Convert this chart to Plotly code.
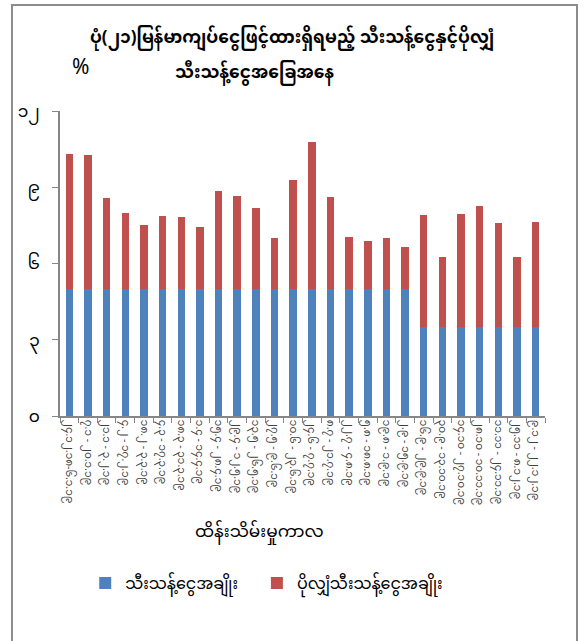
import plotly.graph_objects as go

# periods (two-week maintenance periods)
periods = [
    "၂၄.၁၂.၁၈-၆.၁.၁၉", "၇.၁ - ၂၀.၁.၁၉", "၂၁.၁ - ၃.၂.၁၉", "၄.၂ - ၁၇.၂.၁၉",
    "၁၈.၂ - ၃.၃.၁၉", "၄.၃ - ၁၇.၃.၁၉", "၁၈.၃ - ၃၁.၃.၁၉", "၁.၄ - ၁၄.၄.၁၉",
    "၁၅.၄ - ၂၈.၄.၁၉", "၂၉.၄ - ၁၂.၅.၁၉", "၁၃.၅ - ၂၆.၅.၁၉", "၂၇.၅ - ၉.၆.၁၉",
    "၁၀.၆ - ၂၃.၆.၁၉", "၂၄.၆ - ၇.၇.၁၉", "၈.၇ - ၂၁.၇.၁၉", "၂၂.၇ - ၄.၈.၁၉",
    "၅.၈ - ၁၈.၈.၁၉", "၁၉.၈ - ၁.၉.၁၉", "၂.၉ - ၁၅.၉.၁၉", "၁၆.၉ - ၂၉.၉.၁၉",
    "၃၀.၉ - ၁၃.၁၀.၁၉", "၁၄.၁၀ - ၂၇.၁၀.၁၉", "၂၈.၁၀ - ၁၀.၁၁.၁၉",
    "၁၁.၁၁ - ၂၄.၁၁.၁၉", "၂၅.၁၁ - ၈.၁၂.၁၉", "၉.၁၂ - ၂၂.၁၂.၁၉",
]

# required reserve ratio (%)
reserve = [5.0] * 19 + [3.5] * 7
# excess reserve ratio (%)
excess = [5.29, 5.26, 3.57, 3.00, 2.53, 2.86, 2.82, 2.45, 3.87, 3.67, 3.17, 2.00, 4.29,
          5.78, 3.63, 2.06, 1.87, 1.99, 1.64, 4.40, 2.74, 4.44, 4.78, 4.10, 2.74, 4.13]

y_ticks = [0, 3, 6, 9, 12]
y_ticktext = ["၀", "၃", "၆", "၉", "၁၂"]

font = "Noto Sans Myanmar, Padauk, Myanmar Text, Noto Sans, sans-serif"

fig = go.Figure()
fig.add_trace(go.Bar(x=periods, y=reserve, name="သီးသန့်ငွေအချိုး",
                     marker=dict(color="#4F81BD", line=dict(width=0)),
                     legend="legend"))
fig.add_trace(go.Bar(x=periods, y=excess, name="ပိုလျှံသီးသန့်ငွေအချိုး",
                     marker=dict(color="#C0504D", line=dict(width=0)),
                     legend="legend2"))

fig.update_layout(
    width=584, height=641,
    barmode="stack", bargap=0.6,
    margin=dict(l=60, r=39, t=111, b=225),
    paper_bgcolor="white", plot_bgcolor="white",
    font=dict(family=font, color="#000000"),
    showlegend=True,
    legend=dict(orientation="h", x=0.052, y=-0.548, yanchor="middle", xanchor="left",
                font=dict(size=16)),
    legend2=dict(orientation="h", x=0.406, y=-0.548, yanchor="middle", xanchor="left",
                 font=dict(size=16)),
)

fig.update_xaxes(
    type="category", range=[-0.5, 25.5], tickangle=90,
    tickfont=dict(size=10.5, color="#404040"),
    showline=True, linecolor="#868686", linewidth=1.5,
    ticks="outside", tickson="boundaries", ticklen=5, tickcolor="#868686",
    showgrid=False,
)
fig.update_yaxes(
    range=[0, 12], tickvals=y_ticks, ticktext=y_ticktext,
    tickfont=dict(size=17, color="#000000"),
    showline=True, linecolor="#868686", linewidth=1.5,
    ticks="outside", ticklen=6, tickcolor="#868686",
    showgrid=False, zeroline=False, ticklabelstandoff=9,
)

# chart frame
fig.add_shape(type="rect", xref="paper", yref="paper",
              x0=-0.099, x1=1.066, y0=-0.76, y1=1.3475,
              line=dict(color="#8c8c8c", width=2), layer="below")

# title lines, % label, x-axis title
fig.add_annotation(text="<b>ပုံ(၂၁)မြန်မာကျပ်ငွေဖြင့်ထားရှိရမည့် သီးသန့်ငွေနှင့်ပိုလျှံ</b>",
                   xref="paper", yref="paper", x=0.478, y=1.236, showarrow=False,
                   font=dict(size=17), xanchor="center", yanchor="middle")
fig.add_annotation(text="<b>သီးသန့်ငွေအခြေအနေ</b>",
                   xref="paper", yref="paper", x=0.4, y=1.122, showarrow=False,
                   font=dict(size=17), xanchor="center", yanchor="middle")
fig.add_annotation(text="%", xref="paper", yref="paper", x=0.043, y=1.138,
                   showarrow=False, font=dict(size=21), xanchor="center", yanchor="middle")
fig.add_annotation(text="ထိန်းသိမ်းမှုကာလ", xref="paper", yref="paper",
                   x=0.412, y=-0.384, showarrow=False, font=dict(size=17),
                   xanchor="center", yanchor="middle")

fig.write_html("out.html", config={"displayModeBar": False},
               post_script="document.body.style.margin='0';")
